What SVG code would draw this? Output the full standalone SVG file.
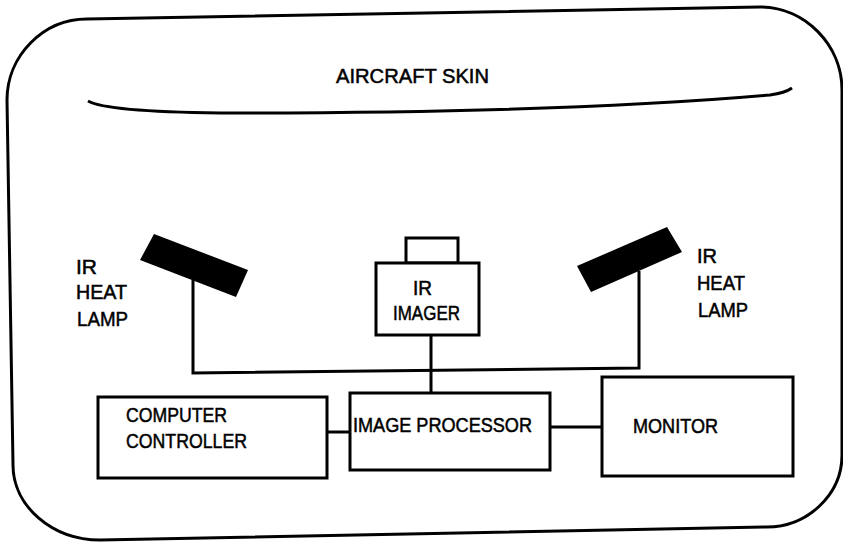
<svg xmlns="http://www.w3.org/2000/svg" width="843" height="542" viewBox="0 0 843 542">
<style>
.ln{fill:none;stroke:#000;stroke-width:3;stroke-linejoin:miter;stroke-linecap:butt}
.bx{fill:#fff;stroke:#000;stroke-width:3}
.lamp{fill:#000;stroke:none}
text{font-family:"Liberation Sans",Arial,sans-serif;font-size:20px;fill:#000;stroke:#000;stroke-width:0.5}
</style>
<rect x="0" y="0" width="843" height="542" fill="#fff"/>
<g id="enclosure">
<path class="ln" d="M7,100 C7,56 43,19 87,19 L760,7 C805,7 842,45 842,90 L842,455 C842,495 807,527 767,527 L100,540 C52,540 13,506 13,465 Z"/>
</g>
<g id="aircraft-skin">
<path class="ln" d="M88,101 C100,108 140,112 220,113 C400,113 600,110 770,95 Q785,93 792,88"/>
<text x="336" y="83" font-size="19.5" textLength="153" lengthAdjust="spacingAndGlyphs">AIRCRAFT SKIN</text>
</g>
<g id="lamp-left">
<polygon class="lamp" points="154,234 248,270 236,297 140,260"/>
<text x="76" y="274" textLength="21" lengthAdjust="spacingAndGlyphs">IR</text>
<text x="76" y="299" textLength="51" lengthAdjust="spacingAndGlyphs">HEAT</text>
<text x="77" y="326" textLength="51" lengthAdjust="spacingAndGlyphs">LAMP</text>
</g>
<g id="lamp-right">
<polygon class="lamp" points="577,266 667,227 682,252 591,292"/>
<text x="697" y="263" textLength="20" lengthAdjust="spacingAndGlyphs">IR</text>
<text x="697" y="290" textLength="48" lengthAdjust="spacingAndGlyphs">HEAT</text>
<text x="698" y="317" textLength="50" lengthAdjust="spacingAndGlyphs">LAMP</text>
</g>
<g id="connectors">
<path class="ln" d="M193,280 L193,373 L639,368 L639,271"/>
<path class="ln" d="M431,335 L431,393"/>
<path class="ln" d="M327,432 L350,432"/>
<path class="ln" d="M550,427 L602,427"/>
</g>
<g id="ir-imager">
<rect class="bx" x="406" y="238" width="52" height="25"/>
<rect class="bx" x="376" y="263" width="103" height="72"/>
<text x="413" y="295" textLength="19" lengthAdjust="spacingAndGlyphs">IR</text>
<text x="393" y="320" textLength="67" lengthAdjust="spacingAndGlyphs">IMAGER</text>
</g>
<g id="computer-controller">
<rect class="bx" x="98" y="397" width="229" height="81"/>
<text x="126" y="422" textLength="101" lengthAdjust="spacingAndGlyphs">COMPUTER</text>
<text x="126" y="448" textLength="121" lengthAdjust="spacingAndGlyphs">CONTROLLER</text>
</g>
<g id="image-processor">
<rect class="bx" x="350" y="393" width="200" height="77"/>
<text x="353" y="432" font-size="22" textLength="179" lengthAdjust="spacingAndGlyphs">IMAGE PROCESSOR</text>
</g>
<g id="monitor">
<rect class="bx" x="602" y="377" width="191" height="99"/>
<text x="633" y="433" textLength="85" lengthAdjust="spacingAndGlyphs">MONITOR</text>
</g>
</svg>
